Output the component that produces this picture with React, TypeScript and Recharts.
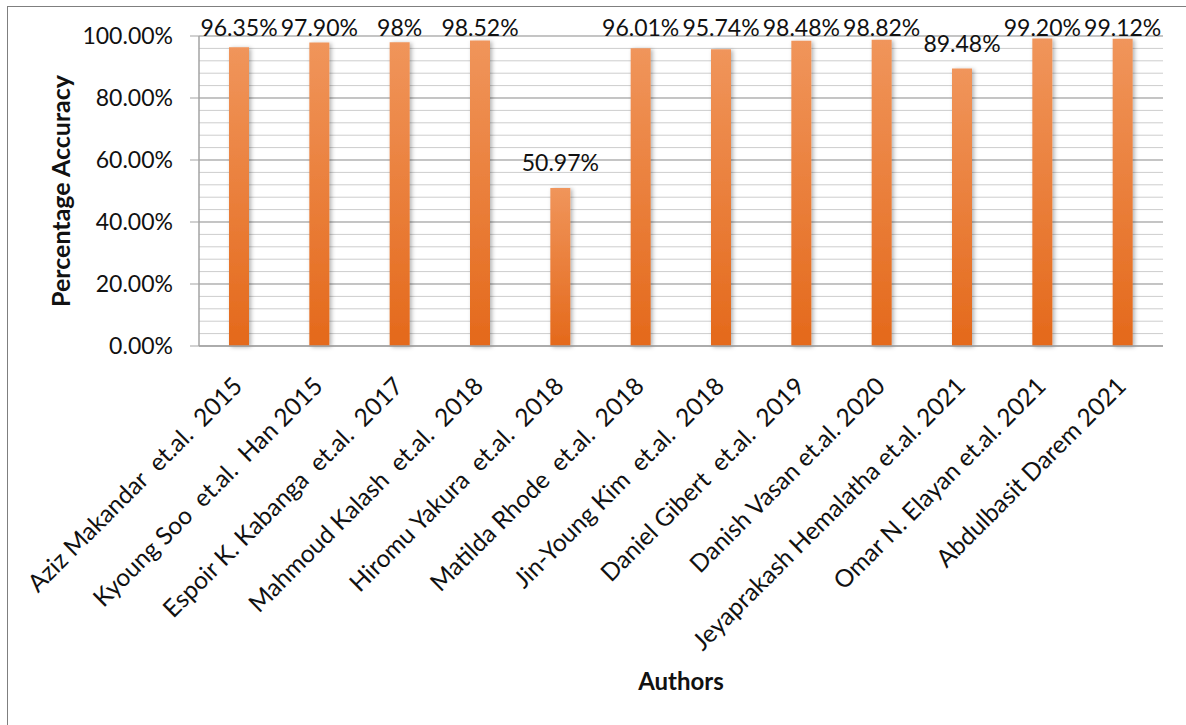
import React from 'react';
import { BarChart, Bar, XAxis, YAxis, CartesianGrid, LabelList } from 'recharts';

const authors = [
  'Aziz Makandar  et.al.  2015',
  'Kyoung Soo  et.al.  Han 2015',
  'Espoir K. Kabanga  et.al.  2017',
  'Mahmoud Kalash  et.al.  2018',
  'Hiromu Yakura  et.al.  2018',
  'Matilda Rhode  et.al.  2018',
  'Jin-Young Kim  et.al.  2018',
  'Daniel Gibert  et.al.  2019',
  'Danish Vasan et.al. 2020',
  'Jeyaprakash Hemalatha et.al. 2021',
  'Omar N. Elayan et.al. 2021',
  'Abdulbasit Darem 2021',
];

const accuracy = [96.35, 97.9, 98, 98.52, 50.97, 96.01, 95.74, 98.48, 98.82, 89.48, 99.2, 99.12];

const accuracyLabels = [
  '96.35%', '97.90%', '98%', '98.52%', '50.97%', '96.01%',
  '95.74%', '98.48%', '98.82%', '89.48%', '99.20%', '99.12%',
];

const majorTicks = [0, 20, 40, 60, 80, 100];
const minorTicks = [0, 4, 8, 12, 16, 20, 24, 28, 32, 36, 40, 44, 48, 52, 56, 60, 64, 68, 72, 76, 80, 84, 88, 92, 96, 100];

const data = authors.map((name, i) => ({ name, value: accuracy[i], label: accuracyLabels[i] }));

const FONT = 'Lato, "Open Sans", sans-serif';
const TEXT = '#111';

// rotated author names, right end sits under the bar
const AuthorTick = (props: any) => {
  const { x, y, payload } = props;
  const ax = x - 2;
  const ay = y + 27;
  return (
    <text
      x={ax}
      y={ay}
      transform={`rotate(-45, ${ax}, ${ay})`}
      textAnchor="end"
      dominantBaseline="central"
      fontFamily={FONT}
      fontSize={24.5}
      fill={TEXT}
      xmlSpace="preserve"
      style={{ whiteSpace: 'pre' }}
    >
      {payload.value}
    </text>
  );
};

const ValueLabel = (props: any) => {
  const { x, y, width, index } = props;
  const ly = Math.max(y - 26, 27);
  return (
    <text
      x={x + width / 2}
      y={ly}
      textAnchor="middle"
      dominantBaseline="central"
      fontFamily={FONT}
      fontSize={23}
      fill={TEXT}
    >
      {accuracyLabels[index]}
    </text>
  );
};

const YTitle = (props: any) => {
  const { viewBox } = props;
  const cx = 60;
  const cy = viewBox.y + viewBox.height / 2;
  return (
    <text
      x={cx}
      y={cy}
      transform={`rotate(-90, ${cx}, ${cy})`}
      textAnchor="middle"
      dominantBaseline="central"
      fontFamily={FONT}
      fontWeight="bold"
      fontSize={25}
      fill={TEXT}
    >
      Percentage Accuracy
    </text>
  );
};

// minor grid lines every 4%, placed through the y scale
const minorLines = ({ yAxis, offset }: any) => {
  if (yAxis && typeof yAxis.scale === 'function') {
    return minorTicks.map((t) => yAxis.scale(t));
  }
  return minorTicks.map((t) => offset.top + offset.height * (1 - t / 100));
};

const App: React.FC = () => {
  return (
    <div style={{ position: 'absolute', left: 0, top: 0, width: 1186, height: 725, background: '#fff' }}>
      <div
        style={{
          position: 'absolute',
          left: 7,
          top: 6,
          width: 1186,
          height: 725,
          borderLeft: '1px solid #7f7f7f',
          borderTop: '1px solid #7f7f7f',
        }}
      />
      <BarChart
        width={1186}
        height={725}
        data={data}
        margin={{ top: 36, right: 23, left: 0, bottom: 0 }}
        style={{ position: 'absolute', left: 0, top: 0 }}
      >
        <defs>
          <linearGradient id="barFill" x1="0" y1="0" x2="0" y2="1">
            <stop offset="0%" stopColor="#F0955B" />
            <stop offset="100%" stopColor="#E4691B" />
          </linearGradient>
          <filter id="barShadow" x="-50%" y="-10%" width="200%" height="120%">
            <feDropShadow dx="2" dy="1" stdDeviation="2" floodColor="#000" floodOpacity="0.3" />
          </filter>
        </defs>
        <CartesianGrid vertical={false} stroke="#cdcdcd" strokeWidth={1} horizontalCoordinatesGenerator={minorLines} />
        <CartesianGrid vertical={false} stroke="#a3a3a3" strokeWidth={1} />
        <XAxis
          dataKey="name"
          height={379}
          interval={0}
          tickLine={false}
          axisLine={{ stroke: '#a3a3a3', strokeWidth: 1.5 }}
          tick={<AuthorTick />}
          label={{
            value: 'Authors',
            position: 'insideBottom',
            offset: 35,
            style: { fontFamily: FONT, fontWeight: 'bold', fontSize: 24, fill: TEXT },
          }}
        />
        <YAxis
          width={199}
          domain={[0, 100]}
          ticks={majorTicks}
          tickFormatter={(v: number) => `${v.toFixed(2)}%`}
          axisLine={{ stroke: '#a3a3a3', strokeWidth: 1.5 }}
          tickLine={{ stroke: '#a3a3a3' }}
          tickSize={9}
          tickMargin={17}
          tick={{ fontFamily: FONT, fontSize: 23, fill: TEXT }}
          label={<YTitle />}
        />
        <Bar
          dataKey="value"
          barSize={20}
          fill="url(#barFill)"
          filter="url(#barShadow)"
          isAnimationActive={false}
        >
          <LabelList dataKey="label" content={<ValueLabel />} />
        </Bar>
      </BarChart>
    </div>
  );
};

export default App;
